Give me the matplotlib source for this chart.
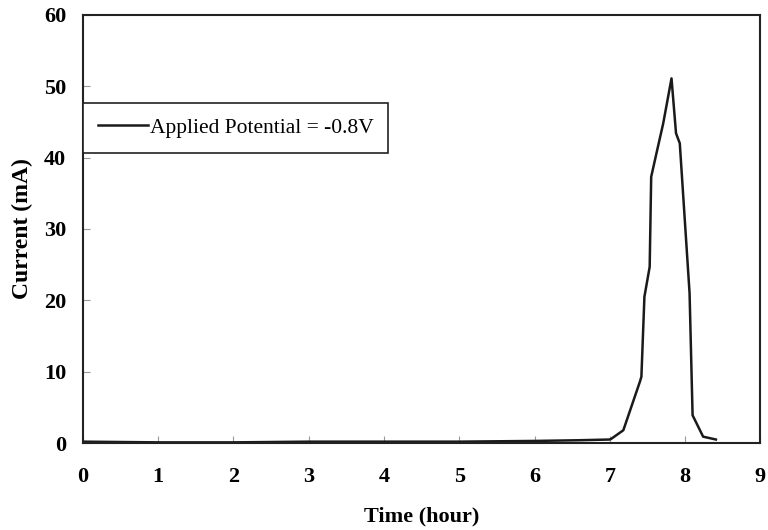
import matplotlib.pyplot as plt

# --- данные ---
time_h = [0.0, 1.0, 2.0, 3.0, 4.0, 5.0, 6.0, 6.6, 7.0, 7.02, 7.18, 7.40, 7.42,
          7.46, 7.53, 7.55, 7.62, 7.71, 7.82, 7.88, 7.93, 8.06, 8.10, 8.24, 8.41]
current_ma = [0.2, 0.1, 0.1, 0.2, 0.2, 0.2, 0.3, 0.4, 0.5, 0.6, 1.8, 8.6, 9.3,
              20.5, 24.7, 37.3, 40.6, 44.8, 51.1, 43.4, 42.0, 21.0, 3.9, 0.9, 0.5]
x_ticks = list(range(0, 10))
y_ticks = list(range(0, 61, 10))

plt.rcParams['font.family'] = ['Liberation Serif', 'DejaVu Serif']

fig = plt.figure(figsize=(7.68, 5.30), dpi=100)
ax = fig.add_axes([0.108, 0.164, 0.882, 0.808])

ax.plot(time_h, current_ma, color='#1a1a1a', lw=1.8,
        label='Applied Potential = -0.8V')

ax.set_xlim(0, 9)
ax.set_ylim(0, 60)
ax.set_xticks(x_ticks)
ax.set_yticks(y_ticks)
ax.tick_params(direction='in', length=5, width=0.8, color='#999999',
               labelsize=16)
ax.tick_params(axis='x', pad=17)
ax.tick_params(axis='y', pad=12)
for lbl in ax.get_xticklabels() + ax.get_yticklabels():
    lbl.set_fontweight('bold')
for s in ax.spines.values():
    s.set_linewidth(1.5)
    s.set_color('#222222')

ax.set_xlabel('Time (hour)', fontsize=16, fontweight='bold', labelpad=14)
ax.set_ylabel('Current (mA)', fontsize=17, fontweight='bold', labelpad=8)

leg = ax.legend(loc='upper left', bbox_to_anchor=(0.0, 0.795), fontsize=15.5,
                handlelength=2.3, handletextpad=0.1, borderpad=0.7,
                fancybox=False, framealpha=1, edgecolor='#222222',
                borderaxespad=0)
leg.get_frame().set_linewidth(1.2)

fig.savefig('out.png', dpi=100)
